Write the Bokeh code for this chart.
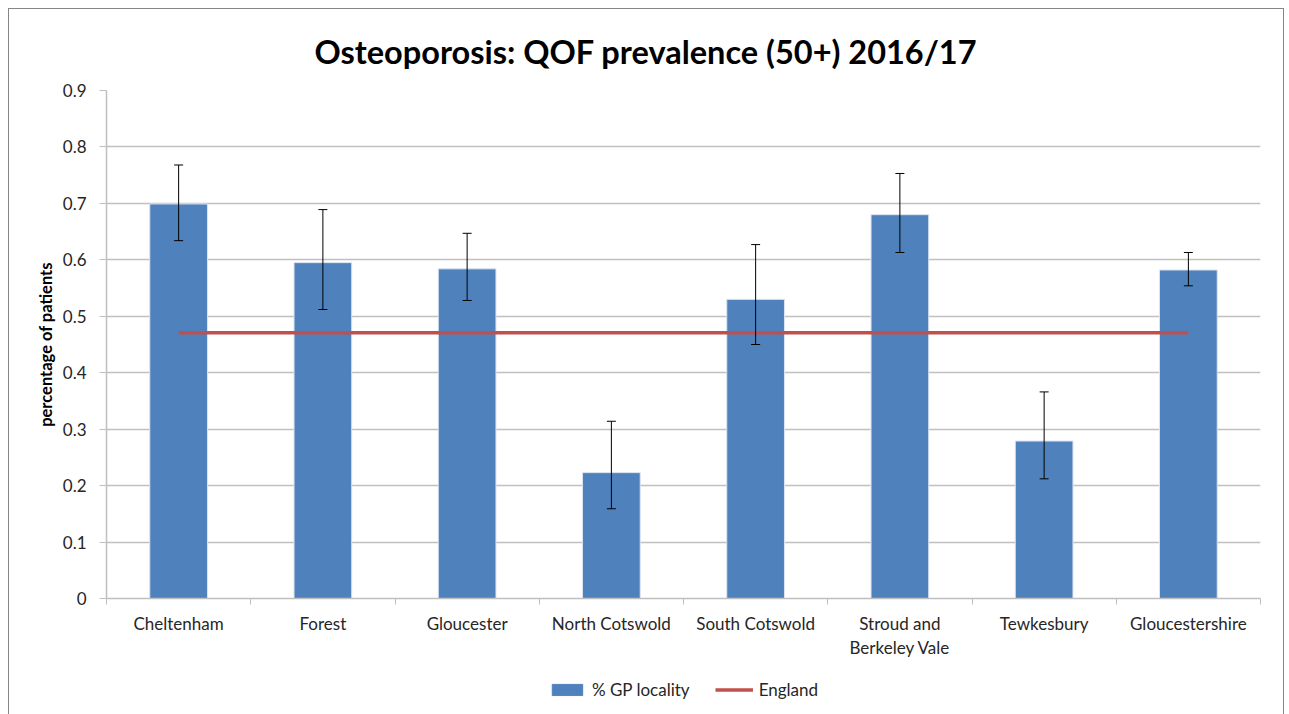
from bokeh.plotting import figure
from bokeh.layouts import column
from bokeh.models import (ColumnDataSource, Range1d, FixedTicker, Whisker, TeeHead,
                          Legend, LegendItem)
from bokeh.embed import file_html
from bokeh.resources import INLINE

categories = ["Cheltenham", "Forest", "Gloucester", "North Cotswold", "South Cotswold",
              "Stroud and\nBerkeley Vale", "Tewkesbury", "Gloucestershire"]
gp_locality = [0.699, 0.595, 0.584, 0.223, 0.530, 0.680, 0.279, 0.582]
upper_ci = [0.768, 0.689, 0.647, 0.314, 0.627, 0.753, 0.366, 0.613]
lower_ci = [0.634, 0.512, 0.528, 0.159, 0.450, 0.613, 0.212, 0.554]
england = [0.471] * len(categories)
y_ticks = [0, 0.1, 0.2, 0.3, 0.4, 0.5, 0.6, 0.7, 0.8, 0.9]

FONT = "Lato"
BAR_COLOR = "#4f81bd"
LINE_COLOR = "#c0504d"
centers = [i + 0.5 for i in range(len(categories))]
src = ColumnDataSource(dict(x=centers, top=gp_locality, upper=upper_ci, lower=lower_ci,
                            eng=england))

p = figure(width=1274, height=655, output_backend="svg", toolbar_location=None,
           x_range=Range1d(0, len(categories)), y_range=Range1d(0, 0.9),
           min_border_left=97, min_border_right=23, min_border_top=81,
           min_border_bottom=66)

p.title.text = "Osteoporosis: QOF prevalence (50+) 2016/17"
p.title.align = "left"
p.title.offset = 208
p.title.text_font = FONT
p.title.text_font_size = "32.5px"
p.title.text_font_style = "bold"
p.title.text_color = "#000000"
p.title.standoff = 40

p.outline_line_color = None
p.background_fill_color = "white"
p.border_fill_color = "white"

bars = p.vbar(x="x", top="top", width=0.4, source=src, fill_color=BAR_COLOR,
              line_color="#dbe4f0", line_width=1)
eng = p.line(x="x", y="eng", source=src, line_color=LINE_COLOR, line_width=3.5)

wh = Whisker(base="x", upper="upper", lower="lower", source=src,
             line_color="black", line_width=1, level="overlay",
             upper_head=TeeHead(size=9, line_color="black", line_width=1),
             lower_head=TeeHead(size=9, line_color="black", line_width=1))
p.add_layout(wh)

# x axis
xa = p.xaxis[0]
xa.ticker = FixedTicker(ticks=centers, minor_ticks=list(range(len(categories) + 1)))
xa.major_label_overrides = {c: lab for c, lab in zip(centers, categories)}
xa.major_tick_line_color = None
xa.major_tick_out = 0
xa.minor_tick_line_color = "#bfbfbf"
xa.minor_tick_out = 6
xa.minor_tick_in = 0
xa.axis_line_color = "#bfbfbf"
xa.axis_line_width = 1.5
xa.major_label_text_font = FONT
xa.major_label_text_font_size = "17px"
xa.major_label_text_color = "#262626"
xa.major_label_standoff = 8
xa.major_label_text_line_height = 1.15
xa.axis_label_standoff = 0

# y axis
ya = p.yaxis[0]
ya.ticker = FixedTicker(ticks=y_ticks, minor_ticks=[])
ya.major_label_overrides = {0: "0"}
ya.axis_label = "percentage of patients"
ya.axis_label_text_font = FONT
ya.axis_label_text_font_size = "16.5px"
ya.axis_label_text_font_style = "bold"
ya.axis_label_text_color = "#000000"
ya.axis_label_standoff = 4
ya.major_label_text_font = FONT
ya.major_label_text_font_size = "17px"
ya.major_label_text_color = "#262626"
ya.major_label_standoff = 13
ya.major_tick_line_color = "#bfbfbf"
ya.major_tick_out = 7
ya.major_tick_in = 0
ya.minor_tick_line_color = None
ya.axis_line_color = "#bfbfbf"
ya.axis_line_width = 1.5

p.xgrid.grid_line_color = None
p.ygrid.grid_line_color = "#c0c0c0"
p.ygrid.grid_line_width = 1.5
p.ygrid.ticker = FixedTicker(ticks=y_ticks)

# legend strip below the chart (its renderers reuse the data but lie outside its view)
pl = figure(width=1274, height=50, output_backend="svg", toolbar_location=None,
            title=None, x_axis_location=None, y_axis_location=None,
            x_range=Range1d(0, 1), y_range=Range1d(10, 11),
            min_border_left=6, min_border_right=0, min_border_top=0,
            min_border_bottom=0)
pl.outline_line_color = None
pl.grid.grid_line_color = None
pl.background_fill_color = "white"
pl.border_fill_color = "white"
lg_bar = pl.vbar(x="x", top="top", width=0.4, source=src, fill_color=BAR_COLOR,
                 line_color=BAR_COLOR)
lg_line = pl.line(x="x", y="eng", source=src, line_color=LINE_COLOR, line_width=3.5)

legend = Legend(items=[LegendItem(label="% GP locality", renderers=[lg_bar]),
                       LegendItem(label="England", renderers=[lg_line])],
                orientation="horizontal", location="center",
                label_text_font=FONT, label_text_font_size="17px",
                label_text_color="#262626", glyph_width=38, glyph_height=14,
                label_standoff=6, spacing=25, border_line_color=None,
                background_fill_alpha=0, margin=0, padding=4)
pl.add_layout(legend, "center")

layout = column(p, pl, spacing=0)
layout.styles = {"border": "1px solid #868686", "border-bottom": "none",
                 "margin": "8px 0 0 8px"}

open("out.html", "w").write(file_html(layout, INLINE))
